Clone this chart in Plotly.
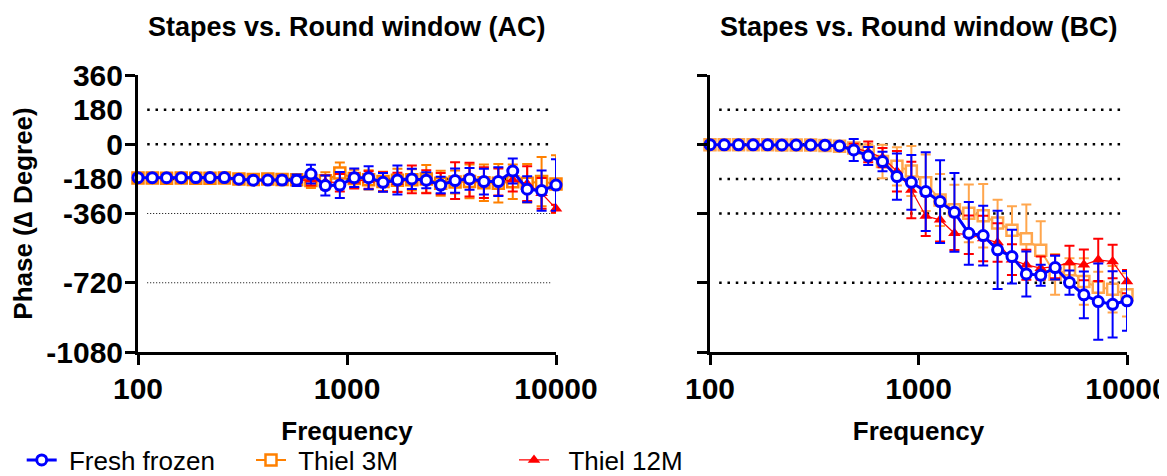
import plotly.graph_objects as go

# ---------------- data ----------------
freq = [100, 117, 137, 161, 189, 221, 259, 304, 356, 418, 489, 574, 672, 788, 924,
        1083, 1269, 1487, 1743, 2043, 2395, 2807, 3290, 3857, 4520, 5298, 6210, 7279, 8532, 10000]

# AC panel
ff_ac = [-174, -174, -174, -174, -173, -173, -173, -182, -187, -186, -186, -187, -155, -215, -212,
         -174, -174, -198, -186, -180, -187, -212, -189, -180, -194, -194, -139, -234, -241, -212]
ff_ac_err = [2, 2, 2, 2, 2, 2, 2, 3, 4, 6, 22, 30, 49, 52, 68, 48, 60, 49, 75, 53, 42, 43, 63, 56, 67, 75, 65, 67, 105, 134]
t3_ac = [-176, -176, -177, -176, -177, -177, -176, -181, -183, -181, -183, -185, -188, -190, -150,
         -178, -185, -193, -187, -185, -180, -203, -196, -193, -200, -203, -195, -203, -194, -207]
t3_ac_err = [3, 3, 3, 3, 3, 3, 3, 5, 6, 8, 15, 25, 40, 45, 55, 45, 50, 50, 60, 55, 72, 65, 60, 88, 95, 100, 90, 100, 128, 150]
t12_ac = [-176, -176, -176, -177, -177, -177, -177, -181, -183, -184, -185, -186, -185, -196, -200,
          -190, -186, -195, -198, -183, -195, -205, -189, -184, -200, -196, -185, -205, -255, -335]
t12_ac_err = [3, 3, 3, 3, 3, 3, 3, 5, 6, 8, 12, 18, 30, 35, 45, 40, 45, 50, 50, 72, 60, 55, 96, 88, 80, 70, 60, 90, 80, 20]

# BC panel
ff_bc = [-2, -3, -3, -3, -3, -4, -4, -4, -5, -9, -30, -61, -90, -168, -198, -246, -298, -354,
         -463, -475, -549, -584, -674, -681, -641, -719, -783, -818, -832, -814]
ff_bc_err = [2, 2, 2, 2, 2, 2, 2, 3, 3, 5, 57, 47, 51, 120, 142, 205, 215, 205, 163, 155, 203, 140, 117, 55, 62, 63, 121, 198, 172, 155]
t3_bc = [-2, -3, -3, -3, -3, -4, -4, -4, -6, -10, -20, -40, -90, -115, -139, -200, -290, -340,
         -359, -372, -409, -447, -491, -551, -676, -653, -714, -743, -754, -783]
t3_bc_err = [2, 2, 2, 2, 2, 2, 2, 3, 3, 5, 15, 40, 87, 100, 130, 147, 135, 130, 150, 165, 120, 125, 178, 151, 106, 60, 121, 80, 121, 113]
t12_bc = [-2, -3, -3, -3, -3, -4, -4, -4, -6, -10, -18, -40, -70, -140, -238, -373, -393, -463,
          -470, -490, -511, -600, -627, -644, -636, -615, -627, -601, -610, -714]
t12_bc_err = [2, 2, 2, 2, 2, 2, 2, 3, 3, 5, 20, 54, 50, 105, 147, 104, 113, 87, 100, 118, 100, 80, 78, 60, 60, 87, 80, 110, 87, 60]

y_tick_vals = [360, 180, 0, -180, -360, -720, -1080]
y_major = [360, 0, -360, -720, -1080]
x_tick_vals = [100, 1000, 10000]
panel_titles = ["Stapes vs. Round window (AC)", "Stapes vs. Round window (BC)"]
series_names = ["Fresh frozen", "Thiel 3M", "Thiel 12M"]

FONT = "Liberation Sans, Arial, sans-serif"
BLUE = "#0000FF"
ORANGE = "#FF8000"
ORANGE_L = "#FFA64D"
RED = "#FF0000"

fig = go.Figure()


def add_series(xa, ya, vals, errs, name, color, kind, show, legend, pad):
    if kind == "circle":
        marker = dict(symbol="circle", size=10, color="white", line=dict(color=color, width=3))
        line = dict(color=color, width=3)
    elif kind == "square":
        marker = dict(symbol="square", size=11, color="white", line=dict(color=color, width=2.5))
        line = dict(color=color, width=2)
    else:
        marker = dict(symbol="triangle-up", size=11, color=color, line=dict(color=color, width=0))
        line = dict(color=color, width=1.2)
    fig.add_trace(go.Scatter(
        x=freq, y=vals, mode="lines+markers", name="\u00a0" * pad + name,
        xaxis=xa, yaxis=ya, marker=marker, line=line, cliponaxis=False,
        error_y=dict(type="data", array=errs, color=color, thickness=2, width=5),
        showlegend=show, legend=legend,
    ))


# AC panel (left)
add_series("x", "y", t3_ac, t3_ac_err, series_names[1], ORANGE, "square", True, "legend2", 1)
add_series("x", "y", t12_ac, t12_ac_err, series_names[2], RED, "tri", True, "legend3", 2)
add_series("x", "y", ff_ac, ff_ac_err, series_names[0], BLUE, "circle", True, "legend", 1)
# BC panel (right)
add_series("x2", "y2", t3_bc, t3_bc_err, series_names[1], ORANGE_L, "square", False, "legend2", 1)
add_series("x2", "y2", t12_bc, t12_bc_err, series_names[2], RED, "tri", False, "legend3", 2)
add_series("x2", "y2", ff_bc, ff_bc_err, series_names[0], BLUE, "circle", False, "legend", 1)

# page has an 8px body margin: figure coordinates = screen - 8
OFF = 8
W, H = 1167, 476 - OFF


def px_x(sx):
    return (sx - OFF) / W


def px_y(sy):
    return 1 - (sy - OFF) / H


ydom = [px_y(352), px_y(75)]
xdom1 = [px_x(138), px_x(556)]
xdom2 = [px_x(710), px_x(1127)]

tickfont = dict(family=FONT, size=30, color="black", weight="bold")
titlefont = dict(family=FONT, size=26, color="black", weight="bold")


def xaxis_cfg(dom, anchor):
    return dict(domain=dom, anchor=anchor, type="log", range=[2, 4], automargin=False,
                tickvals=x_tick_vals, ticktext=[str(v) for v in x_tick_vals],
                ticks="outside", ticklen=10, tickwidth=3, tickcolor="black",
                showline=True, linewidth=3, linecolor="black", showgrid=False, zeroline=False,
                tickfont=tickfont, ticklabelstandoff=-2, ticklabeloverflow="allow",
                title=dict(text="Frequency", font=titlefont, standoff=18))


def yaxis_cfg(anchor, labels):
    return dict(domain=ydom, anchor=anchor, range=[-1080, 360], automargin=False,
                tickvals=y_tick_vals, ticktext=[str(v) for v in y_tick_vals],
                showticklabels=labels, ticks="", tickfont=tickfont, ticklabelstandoff=6,
                ticklabeloverflow="allow",
                minor=dict(tickvals=y_major, ticks="outside", ticklen=10, tickwidth=3,
                           tickcolor="black", showgrid=False),
                showline=True, linewidth=3, linecolor="black", showgrid=False, zeroline=False,
                title=dict(text="Phase (∆ Degree)" if labels else "", font=titlefont, standoff=8))


fig.update_layout(
    width=W, height=H, margin=dict(l=0, r=0, t=0, b=0, autoexpand=False),
    paper_bgcolor="white", plot_bgcolor="white",
    xaxis=xaxis_cfg(xdom1, "y"), yaxis=yaxis_cfg("x", True),
    xaxis2=xaxis_cfg(xdom2, "y2"), yaxis2=yaxis_cfg("x2", False),
)

# dotted reference lines
big_dot = dict(color="black", width=2.5, dash="2.5px,5.8px")
fine_dot = dict(color="black", width=1, dash="1px,2px")
for xr, yr, fine_vals in [("x domain", "y", [-360, -720]), ("x2 domain", "y2", [])]:
    for v in [180, 0, -180, -360, -720]:
        fig.add_shape(type="line", xref=xr, yref=yr, x0=0.022, x1=0.99, y0=v, y1=v,
                      line=fine_dot if v in fine_vals else big_dot, layer="below")

# panel titles
for i, t in enumerate(panel_titles):
    xr = "x domain" if i == 0 else "x2 domain"
    fig.add_annotation(text=t, xref=xr, yref="paper", x=0.5, y=px_y(27),
                       xanchor="center", yanchor="middle", showarrow=False,
                       font=dict(family=FONT, size=27, color="black", weight="bold"))

# legends (one per entry so each can sit where the reference has it)
legfont = dict(family=FONT, size=26, color="black")
for key, sx in [("legend", 21.7), ("legend2", 251), ("legend3", 514)]:
    fig.update_layout({key: dict(x=px_x(sx), y=px_y(460), xanchor="left", yanchor="middle",
                                 orientation="h", font=legfont, itemwidth=30,
                                 bgcolor="rgba(0,0,0,0)", borderwidth=0)})

fig.write_html("out.html")
